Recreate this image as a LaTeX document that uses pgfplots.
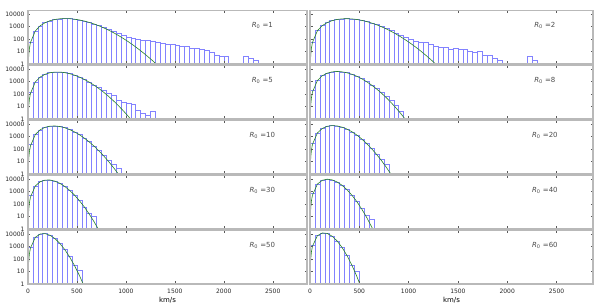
\documentclass[border=0pt]{standalone}
\usepackage{fontspec}
\setmainfont{DejaVu Sans}
\usepackage{pgfplots}
\pgfplotsset{compat=1.18}
\definecolor{barblue}{RGB}{130,130,255}
\definecolor{fitgreen}{RGB}{40,130,40}
\newcommand{\rlab}[2]{\node[font=\fontsize{7}{8}\selectfont, text=black!70] at (rel axis cs:#1,0.72) {\textit{R}\textsubscript{0} =#2};}
\newcommand{\panel}[5]{\begin{axis}[scale only axis, width=#1, height=53.5pt, ymode=log, ymin=1, ymax=20000, xmin=0, xmax=#2,
    axis on top, axis line style={draw=gray!55, line width=1.2pt},
    tick style={draw=black!65, line width=0.4pt}, major tick length=2.5pt, tick align=inside,
    ytick={1,10,100,1000,10000}, yminorticks=false, xtick={0,500,1000,1500,2000,2500},
    xticklabels={}, yticklabels={#3},
    tick label style={font=\fontsize{6}{7}\selectfont, text=black!85},
    anchor=south west, at={#4}, #5]}
\newcommand{\bottomopts}{}
\begin{document}
\begin{tikzpicture}
% Row 1 left R=1
\panel{279pt}{2850}{1,10,100,1000,10000}{(28pt,244pt)}{}
\addplot[ybar interval, draw=barblue, line width=0.55pt, fill=none] coordinates {(0,58)(50,420)(100,1150)(150,2150)(200,2950)(250,3850)(300,4250)(350,4550)(400,4350)(450,4050)(500,3400)(550,2900)(600,2250)(650,1700)(700,1250)(750,900)(800,620)(850,430)(900,300)(950,200)(1000,130)(1050,115)(1100,100)(1150,88)(1200,80)(1250,65)(1300,56)(1350,48)(1400,40)(1450,36)(1500,30)(1550,28)(1600,25)(1650,20)(1700,18)(1750,15)(1800,12)(1850,9)(1900,5)(1950,4)(2000,4)(2050,1)(2100,1)(2150,1)(2200,4)(2250,3)(2300,2)(2350,1)};
\addplot[draw=fitgreen, line width=0.6pt, mark=none] coordinates {(3,0.76)(8,5.4)(15,19)(25,53)(75,458)(125,1188)(175,2098)(225,3020)(275,3794)(325,4306)(375,4498)(425,4380)(475,4006)(525,3462)(575,2837)(625,2213)(675,1646)(725,1169)(775,795)(825,517)(875,323)(925,194)(975,111)(1025,61.6)(1075,32.7)(1125,16.7)(1175,8.2)(1225,3.9)(1275,1.78)(1325,0.78)};
\rlab{0.84}{1}
\end{axis}
% Row 1 right R=2
\panel{283pt}{2870}{}{(310pt,244pt)}{}
\addplot[ybar interval, draw=barblue, line width=0.55pt, fill=none] coordinates {(0,55)(50,480)(100,1200)(150,2100)(200,3100)(250,3750)(300,4300)(350,4350)(400,4250)(450,3750)(500,3250)(550,2550)(600,2000)(650,1450)(700,1020)(750,700)(800,480)(850,320)(900,210)(950,140)(1000,90)(1050,72)(1100,58)(1150,55)(1200,40)(1250,25)(1300,24)(1350,22)(1400,15)(1450,17)(1500,14)(1550,15)(1600,10)(1650,9)(1700,10)(1750,5)(1800,5)(1850,3)(1900,2)(1950,1)(2000,1)(2050,1)(2100,1)(2150,1)(2200,4)(2250,2)(2300,1)};
\addplot[draw=fitgreen, line width=0.6pt, mark=none] coordinates {(3,0.79)(8,5.6)(15,19.7)(25,54.3)(75,472)(125,1218)(175,2140)(225,3056)(275,3803)(325,4266)(375,4398)(425,4219)(475,3793)(525,3216)(575,2581)(625,1967)(675,1427)(725,987)(775,652)(825,412)(875,249)(925,144)(975,80)(1025,42.6)(1075,21.8)(1125,10.7)(1175,5.0)(1225,2.28)(1275,0.99)(1325,0.42)};
\rlab{0.83}{2}
\end{axis}
% Row 2 left R=5
\panel{279pt}{2850}{1,10,100,1000,10000}{(28pt,189pt)}{}
\addplot[ybar interval, draw=barblue, line width=0.55pt, fill=none] coordinates {(0,150)(50,950)(100,2400)(150,3900)(200,5300)(250,5850)(300,6000)(350,5300)(400,4450)(450,3300)(500,2400)(550,1550)(600,950)(650,560)(700,330)(750,200)(800,120)(850,80)(900,35)(950,22)(1000,18)(1050,15)(1100,5)(1150,3)(1200,2)(1250,4)(1300,1)};
\addplot[draw=fitgreen, line width=0.6pt, mark=none] coordinates {(1,0.18)(3,1.63)(8,11.6)(15,40.7)(25,112)(75,958)(125,2380)(175,3950)(225,5228)(275,5915)(325,5919)(375,5341)(425,4399)(475,3333)(525,2336)(575,1521)(625,923)(675,523)(725,277)(775,138)(825,64)(875,28)(925,11.5)(975,4.46)(1025,1.62)(1075,0.55)};
\rlab{0.84}{5}
\end{axis}
% Row 2 right R=8
\panel{283pt}{2870}{}{(310pt,189pt)}{}
\addplot[ybar interval, draw=barblue, line width=0.55pt, fill=none] coordinates {(0,200)(50,1250)(100,3000)(150,4850)(200,6200)(250,6550)(300,6150)(350,5250)(400,3950)(450,2700)(500,1750)(550,1000)(600,540)(650,270)(700,130)(750,65)(800,32)(850,12)(900,4)(950,1)};
\addplot[draw=fitgreen, line width=0.6pt, mark=none] coordinates {(1,0.24)(3,2.1)(8,15.2)(15,53)(25,147)(75,1239)(125,3015)(175,4844)(225,6149)(275,6600)(325,6199)(375,5195)(425,3932)(475,2709)(525,1708)(575,990)(625,529)(675,261)(725,119.5)(775,50.6)(825,19.9)(875,7.3)(925,2.48)(975,0.78)};
\rlab{0.83}{8}
\end{axis}
% Row 3 left R=10
\panel{279pt}{2850}{1,10,100,1000,10000}{(28pt,134pt)}{}
\addplot[ybar interval, draw=barblue, line width=0.55pt, fill=none] coordinates {(0,230)(50,1500)(100,3550)(150,5700)(200,6950)(250,7300)(300,6500)(350,5300)(400,3700)(450,2450)(500,1450)(550,780)(600,390)(650,180)(700,80)(750,35)(800,13)(850,6)(900,3)(950,1)};
\addplot[draw=fitgreen, line width=0.6pt, mark=none] coordinates {(1,0.29)(3,2.6)(8,18.5)(15,64.8)(25,179)(75,1498)(125,3597)(175,5666)(225,7000)(275,7265)(325,6553)(375,5240)(425,3758)(475,2437)(525,1437)(575,773)(625,381)(675,172.6)(725,71.8)(775,27.5)(825,9.7)(875,3.17)(925,0.95)};
\rlab{0.84}{10}
\end{axis}
% Row 3 right R=20
\panel{283pt}{2870}{}{(310pt,134pt)}{}
\addplot[ybar interval, draw=barblue, line width=0.55pt, fill=none] coordinates {(0,320)(50,2000)(100,4550)(150,6900)(200,7750)(250,7350)(300,5800)(350,4100)(400,2450)(450,1350)(500,660)(550,290)(600,110)(650,40)(700,14)(750,6)(800,1)};
\addplot[draw=fitgreen, line width=0.6pt, mark=none] coordinates {(1,0.39)(3,3.5)(8,25.2)(15,88)(25,243)(75,1996)(125,4604)(175,6830)(225,7786)(275,7310)(325,5847)(375,4063)(425,2482)(475,1344)(525,648)(575,280)(625,108)(675,37.8)(725,11.9)(775,3.37)(825,0.86)};
\rlab{0.83}{20}
\end{axis}
% Row 4 left R=30
\panel{279pt}{2850}{1,10,100,1000,10000}{(28pt,79pt)}{}
\addplot[ybar interval, draw=barblue, line width=0.55pt, fill=none] coordinates {(0,520)(50,2900)(100,6300)(150,8600)(200,8650)(250,7050)(300,4700)(350,2650)(400,1300)(450,520)(500,195)(550,58)(600,17)(650,11)(700,1)};
\addplot[draw=fitgreen, line width=0.6pt, mark=none] coordinates {(1,0.59)(3,5.3)(8,37.9)(15,133)(25,365)(75,2906)(125,6317)(175,8572)(225,8680)(275,7026)(325,4706)(375,2657)(425,1281)(475,531)(525,190)(575,59.3)(625,16.1)(675,3.82)(725,0.79)};
\rlab{0.84}{30}
\end{axis}
% Row 4 right R=40
\panel{283pt}{2870}{}{(310pt,79pt)}{}
\addplot[ybar interval, draw=barblue, line width=0.55pt, fill=none] coordinates {(0,690)(50,4100)(100,8250)(150,10100)(200,8850)(250,6050)(300,3250)(350,1450)(400,530)(450,160)(500,45)(550,12)(600,6)(650,1)};
\addplot[draw=fitgreen, line width=0.6pt, mark=none] coordinates {(0.5,0.22)(1,0.87)(3,7.8)(8,55)(15,194)(25,531)(75,4082)(125,8270)(175,10095)(225,8876)(275,6023)(325,3264)(375,1440)(425,523)(475,158)(525,39.8)(575,8.4)(625,1.5)(675,0.22)};
\rlab{0.83}{40}
\end{axis}
% Row 5 left R=50
\panel{279pt}{2850}{1,10,100,1000,10000}{(28pt,24pt)}{xticklabels={0,500,1000,1500,2000,2500}, xlabel={km/s}, xticklabel style={anchor=base, yshift=-9.6pt}, xlabel style={font=\fontsize{7}{8}\selectfont, at={(axis description cs:0.5,0)}, anchor=center, yshift=-16.4pt}}
\addplot[ybar interval, draw=barblue, line width=0.55pt, fill=none] coordinates {(0,900)(50,5700)(100,10400)(150,11300)(200,8200)(250,4500)(300,1850)(350,600)(400,155)(450,32)(500,12)(550,1)};
\addplot[draw=fitgreen, line width=0.6pt, mark=none] coordinates {(0.5,0.32)(1,1.27)(3,11.4)(8,81)(15,283)(25,773)(75,5678)(125,10510)(175,11212)(225,8235)(275,4460)(325,1845)(375,593)(425,150)(475,30.3)(525,4.87)(575,0.63)};
\rlab{0.84}{50}
\end{axis}
% Row 5 right R=60
\panel{283pt}{2870}{}{(310pt,24pt)}{xticklabels={0,500,1000,1500,2000,2500}, xlabel={km/s}, xticklabel style={anchor=base, yshift=-9.6pt}, xlabel style={font=\fontsize{7}{8}\selectfont, at={(axis description cs:0.5,0)}, anchor=center, yshift=-16.4pt}}
\addplot[ybar interval, draw=barblue, line width=0.55pt, fill=none] coordinates {(0,1350)(50,7600)(100,12600)(150,11600)(200,6900)(250,2900)(300,880)(350,200)(400,33)(450,10)(500,1)};
\addplot[draw=fitgreen, line width=0.6pt, mark=none] coordinates {(0.5,0.45)(1,1.8)(3,16.2)(8,115)(15,401)(25,1091)(75,7609)(125,12693)(175,11571)(225,6896)(275,2876)(325,870)(375,194)(425,32.4)(475,4.07)(525,0.39)};
\rlab{0.83}{60}
\end{axis}
\pgfresetboundingbox
\path[use as bounding box] (0,0) rectangle (600pt,308pt);
\end{tikzpicture}
\end{document}
